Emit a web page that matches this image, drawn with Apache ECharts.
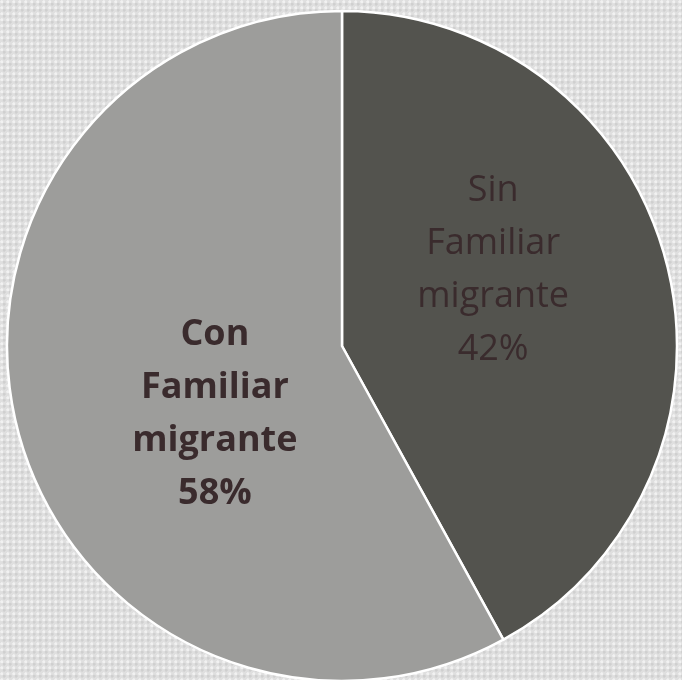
<!DOCTYPE html>
<html>
<head>
<meta charset="utf-8">
<script src="https://cdn.jsdelivr.net/npm/echarts@6/dist/echarts.min.js"></script>
<style>
html,body{margin:0;padding:0;width:682px;height:680px;overflow:hidden;}
body{background-color:#dfdfdf;
background-image:radial-gradient(circle at 30% 30%, rgba(255,255,255,0.55) 0 1.2px, transparent 1.8px),radial-gradient(circle at 70% 70%, rgba(190,190,190,0.45) 0 1.2px, transparent 1.8px);
background-size:6px 6px, 6px 6px;}
#c{width:682px;height:680px;}
</style>
</head>
<body>
<div id="c"></div>
<script>
const categories = ['Sin\nFamiliar\nmigrante', 'Con\nFamiliar\nmigrante'];
const values = [42, 58];
const colors = ['#53534e', '#9d9d9b'];
const weights = ['normal', 'bold'];
const shifts = [[-14, -33], [38, 26]];

const chart = echarts.init(document.getElementById('c'), null, {renderer: 'canvas'});
chart.setOption({
  backgroundColor: 'transparent',
  animation: false,
  series: [{
    type: 'pie',
    center: [342, 346],
    radius: [0, 335],
    startAngle: 90,
    clockwise: true,
    label: {
      position: 'inside',
      formatter: p => p.name + '\n' + p.value + '%',
      color: '#3a2b2d',
      fontFamily: 'Open Sans',
      fontSize: 36,
      lineHeight: 53,
      align: 'center'
    },
    labelLine: {show: false},
    labelLayout: p => ({dx: shifts[p.dataIndex][0], dy: shifts[p.dataIndex][1]}),
    itemStyle: {borderColor: '#ffffff', borderWidth: 2.5},
    emphasis: {disabled: true},
    data: categories.map((c, i) => ({
      name: c, value: values[i],
      itemStyle: {color: colors[i]},
      label: {fontWeight: weights[i]}
    }))
  }]
});
</script>
</body>
</html>
